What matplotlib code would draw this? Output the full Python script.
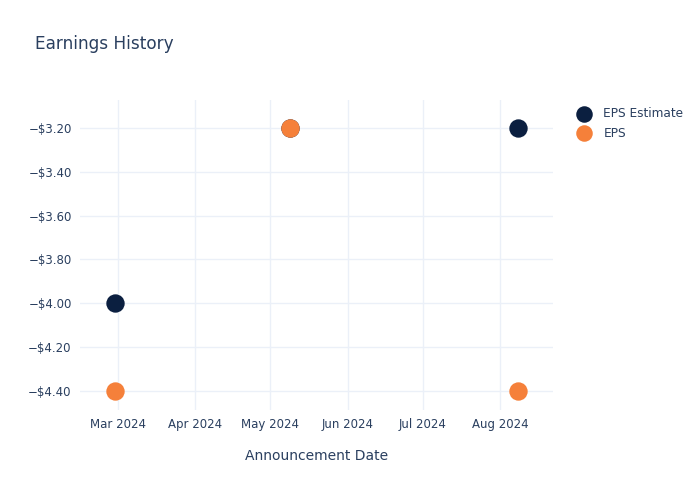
import matplotlib
matplotlib.use("Agg")
import matplotlib.pyplot as plt
from datetime import datetime

dates = ["2024-02-29", "2024-05-09", "2024-08-08"]
eps_estimate = [-4.00, -3.20, -3.20]
eps_actual = [-4.40, -3.20, -4.40]
y_ticks = [-4.40, -4.20, -4.00, -3.80, -3.60, -3.40, -3.20]
x_ticks = ["2024-03-01", "2024-04-01", "2024-05-01", "2024-06-01", "2024-07-01", "2024-08-01"]
x_ticklabels = ["Mar 2024", "Apr 2024", "May 2024", "Jun 2024", "Jul 2024", "Aug 2024"]

plt.rcParams['font.family'] = ['DejaVu Sans']
text_color = "#2a3f5f"
grid_color = "#ebf0f8"

fig = plt.figure(figsize=(7, 5), dpi=100)
ax = fig.add_axes([80/700, 90/500, 473/700, 310/500])

d = [datetime.strptime(s, "%Y-%m-%d") for s in dates]
ax.scatter(d, eps_estimate, s=175, color="#0b1f40", label="EPS Estimate", zorder=3, linewidths=0)
ax.scatter(d, eps_actual, s=175, color="#f5803a", label="EPS", zorder=4, linewidths=0)

ax.set_xlim(datetime(2024, 2, 15), datetime(2024, 8, 22))
ax.set_ylim(-4.487, -3.072)
xt = [datetime.strptime(s, "%Y-%m-%d") for s in x_ticks]
ax.set_xticks(xt)
ax.set_xticklabels(x_ticklabels)
ax.set_yticks(y_ticks)
ax.set_yticklabels(["\u2212$%.2f" % abs(v) for v in y_ticks])
ax.grid(True, color=grid_color, linewidth=1)
ax.set_axisbelow(True)
for s in ax.spines.values():
    s.set_visible(False)
ax.tick_params(length=0, colors=text_color, labelsize=8.5, pad=6)
ax.set_xlabel("Announcement Date", color=text_color, fontsize=10, labelpad=13)

fig.text(35/700, 1 - 44/500, "Earnings History", color=text_color, fontsize=12.2, va="center", ha="left")

leg = fig.legend(loc="upper left", bbox_to_anchor=(572/700, 1 - 107/500), frameon=False,
                 fontsize=8.7, labelcolor=text_color, handletextpad=0.6, labelspacing=0.55,
                 borderaxespad=0, borderpad=0, markerscale=0.9)

fig.savefig("out.png", dpi=100)
